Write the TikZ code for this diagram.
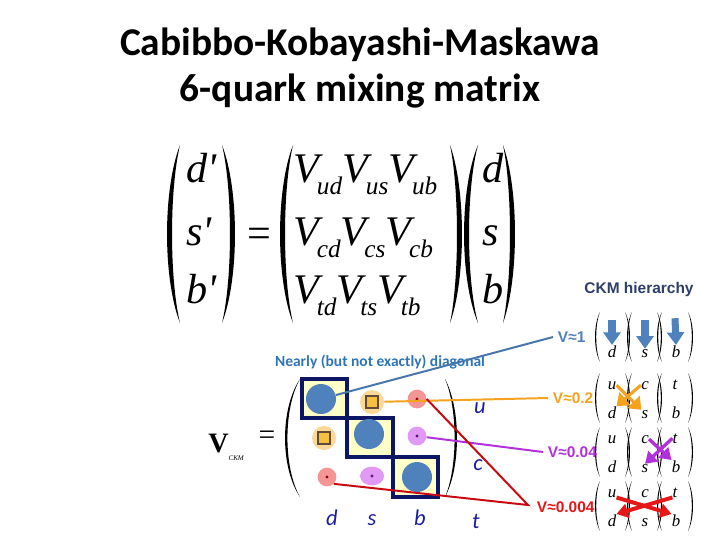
\documentclass[tikz,border=0pt]{standalone}
\usepackage{fontspec}
\setmainfont{Liberation Serif}
\newfontfamily\calibri{Carlito}
\newfontfamily\arial{Liberation Sans}
\usetikzlibrary{arrows.meta,positioning,calc,shapes.geometric}

\definecolor{ckmBlue}{RGB}{79,129,189}
\definecolor{ckmLine}{RGB}{70,118,170}
\definecolor{ckmNavy}{RGB}{12,22,100}
\definecolor{ckmYellow}{RGB}{255,255,200}
\definecolor{ckmPeach}{RGB}{250,216,150}
\definecolor{ckmGold}{RGB}{245,192,64}
\definecolor{ckmBrown}{RGB}{98,74,56}
\definecolor{ckmPink}{RGB}{244,150,150}
\definecolor{ckmViolet}{RGB}{226,152,245}
\definecolor{ckmOrange}{RGB}{245,162,30}
\definecolor{ckmPurple}{RGB}{178,48,218}
\definecolor{ckmRed}{RGB}{228,24,24}
\definecolor{ckmDarkRed}{RGB}{200,10,16}
\definecolor{ckmLetter}{RGB}{28,28,160}
\definecolor{ckmDiag}{RGB}{46,117,182}
\definecolor{ckmSlate}{RGB}{45,62,105}

% paren as a thin crescent: x, top, bottom, outer bulge, inner bulge
\newcommand{\ckmpar}[5]{\fill (#1,#2) .. controls ({#1+1.33*(#4)},{#2+(#3-#2)/4}) and ({#1+1.33*(#4)},{#3-(#3-#2)/4}) .. (#1,#3) .. controls ({#1+1.33*(#5)},{#3-(#3-#2)/4}) and ({#1+1.33*(#5)},{#2+(#3-#2)/4}) .. (#1,#2) -- cycle;}
% lowered subscript of a matrix entry
\newcommand{\ckmsb}[1]{\kern-0.05em\raisebox{-0.3em}{\fontsize{18}{18}\selectfont #1}}

\begin{document}
\begin{tikzpicture}[x=0.025cm,y=-0.025cm,
    title/.style={font=\calibri\bfseries\fontsize{28}{34}\selectfont, anchor=base},
    eqn/.style={font=\itshape\fontsize{30}{30}\selectfont, inner sep=0pt, anchor=base west},
    box/.style={draw=ckmNavy, fill=ckmYellow, line width=2.2pt},
    bigdot/.style={circle, fill=ckmBlue, minimum size=0.75cm, inner sep=0pt},
    peach/.style={circle, fill=ckmPeach, minimum size=0.6cm, inner sep=0pt},
    sqr/.style={rectangle, draw=ckmBrown, fill=ckmGold, line width=1.6pt, minimum size=0.3cm, inner sep=0pt},
    pinkdot/.style={circle, fill=ckmPink, minimum size=0.47cm, inner sep=0pt},
    violetdot/.style={circle, fill=ckmViolet, minimum size=0.47cm, inner sep=0pt},
    quark/.style={font=\calibri\itshape\fontsize{16}{16}\selectfont, text=ckmLetter, anchor=base},
    vlab/.style={font=\arial\bfseries\fontsize{11}{11}\selectfont, anchor=west},
    qsm/.style={font=\itshape\fontsize{12}{12}\selectfont, inner sep=0pt, anchor=base},
    conn/.style={line width=1.4pt}]
    \useasboundingbox (0,0) rectangle (720,540);

    % Title
    \node[title] (title1) at (360,55) {Cabibbo-Kobayashi-Maskawa};
    \node[title] (title2) at (360,101) {6-quark mixing matrix};

    % (d' s' b') = V (d s b)
    \ckmpar{180}{145}{323}{-13}{-8}
    \ckmpar{222}{145}{323}{13}{8}
    \ckmpar{293}{145}{323}{-13}{-8}
    \ckmpar{450}{145}{323}{12}{7}
    \ckmpar{478}{145}{323}{-14}{-9}
    \ckmpar{503}{145}{323}{12}{7}
    \node[eqn] (dp) at (186,182) {d\textquotesingle};
    \node[eqn] (sp) at (186,245) {s\textquotesingle};
    \node[eqn] (bp) at (186,303) {b\textquotesingle};
    \node[font=\fontsize{30}{30}\selectfont, inner sep=0pt] (eq1) at (259,238) {=};
    \node[eqn] (row1) at (293,182) {V\ckmsb{ud}V\ckmsb{us}V\ckmsb{ub}};
    \node[eqn] (row2) at (293,245) {V\ckmsb{cd}V\ckmsb{cs}V\ckmsb{cb}};
    \node[eqn] (row3) at (293,303) {V\ckmsb{td}V\ckmsb{ts}V\ckmsb{tb}};
    \node[eqn] (dq) at (482,182) {d};
    \node[eqn] (sq) at (482,245) {s};
    \node[eqn] (bq) at (482,303) {b};

    % V_CKM with magnitudes
    \node[font=\bfseries\fontsize{20}{20}\selectfont, inner sep=0pt, anchor=base west] (vckm) at (208,452)
      {V\raisebox{-0.3em}{\fontsize{5}{5}\selectfont\mdseries\itshape CKM}};
    \node[font=\fontsize{21}{21}\selectfont, inner sep=0pt] (eq2) at (267,438) {=};
    \ckmpar{300}{379}{497}{-15}{-12.6}
    \ckmpar{445}{379}{497}{12}{9.6}
    \draw[box] (302,379) rectangle (347,418);
    \draw[box] (347,418) rectangle (393,457);
    \draw[box] (393,457) rectangle (438,497);
    \node[bigdot] (m11) at (321,399) {};
    \node[peach] (m12) at (372,402) {};
    \node[sqr] at (m12) {};
    \node[pinkdot] (m13) at (417,399) {};
    \node[peach] (m21) at (324,438) {};
    \node[sqr] at (m21) {};
    \node[bigdot] (m22) at (369,434) {};
    \node[violetdot] (m23) at (417,436) {};
    \node[pinkdot] (m31) at (327,477) {};
    \node[ellipse, fill=ckmViolet, minimum width=0.6cm, minimum height=0.47cm, inner sep=0pt] (m32) at (372,476) {};
    \node[bigdot] (m33) at (417,477) {};
    \fill[ckmDarkRed!70!black] (m13) circle (1.6) (m31) circle (1.6);
    \fill[ckmPurple!50!black] (m23) circle (1.6) (m32) circle (1.6);

    % quark labels
    \node[quark] (ld) at (332,525) {d};
    \node[quark] (ls) at (372,525) {s};
    \node[quark] (lb) at (420,525) {b};
    \node[quark] (lu) at (480,413) {u};
    \node[quark] (lc) at (478,470) {c};
    \node[quark] (lt) at (476,528) {t};

    \node[font=\calibri\bfseries\fontsize{11}{11}\selectfont, text=ckmDiag] (diag) at (380,362) {Nearly (but not exactly) diagonal};

    % CKM hierarchy
    \node[font=\arial\bfseries\fontsize{11}{11}\selectfont, text=ckmSlate] (hier) at (639,289) {CKM hierarchy};
    \foreach \r/\y in {1/312, 2/373, 3/427, 4/481} {
      \foreach \xl/\xr in {600/625, 632/657, 662/688} {
        \ckmpar{\xl}{\y}{\y+50}{-5}{-3.8}
        \ckmpar{\xr}{\y}{\y+50}{5}{3.8}
      }
      \node[qsm] (u\r) at (612,\y+16) {u};
      \node[qsm] (d\r) at (612,\y+45) {d};
      \node[qsm] (c\r) at (645,\y+16) {c};
      \node[qsm] (s\r) at (645,\y+45) {s};
      \node[qsm] (t\r) at (675,\y+16) {t};
      \node[qsm] (b\r) at (676,\y+45) {b};
    }
    \node[vlab, text=ckmBlue] (v1) at (553,337) {V≈1};
    \node[vlab, text=ckmOrange] (v2) at (548,398) {V≈0.2};
    \node[vlab, text=ckmPurple] (v3) at (543,452) {V≈0.04};
    \node[vlab, text=ckmRed] (v4) at (532,507) {V≈0.004};

    \foreach \a/\b in {u1/d1, c1/s1, t1/b1}
      \draw[ckmBlue, line width=5pt, -{Triangle[width=12pt,length=9pt]}] (\a.north) -- (\b.north);
    \draw[ckmOrange, line width=2.2pt, -{Triangle[width=12pt,length=8pt]}] (u2.east) -- (s2.north west);
    \draw[ckmOrange, line width=2.2pt, -{Triangle[width=12pt,length=8pt]}] (c2.west) -- (d2.north east);
    \draw[ckmPurple, line width=2.4pt, -{Triangle[width=10pt,length=8pt]}] (t3.west) -- (s3.north);
    \draw[ckmPurple, line width=2.4pt, -{Triangle[width=10pt,length=8pt]}] (c3.east) -- (b3.north west);
    \draw[ckmRed, line width=2.8pt, -{Triangle[width=10pt,length=8pt]}] (u4.south east) -- (b4.north west);
    \draw[ckmRed, line width=2.8pt, -{Triangle[width=10pt,length=8pt]}] (t4.south west) -- (d4.north east);

    % connectors
    \draw[conn, ckmLine] (v1.west) -- (m11);
    \draw[conn, ckmOrange] (v2.west) -- (m12);
    \draw[conn, ckmPurple] (v3.west) -- (m23);
    \coordinate (rv) at (528,505);
    \draw[conn, ckmDarkRed] (m13.east) -- (rv) -- (m31.south east);
\end{tikzpicture}
\end{document}
